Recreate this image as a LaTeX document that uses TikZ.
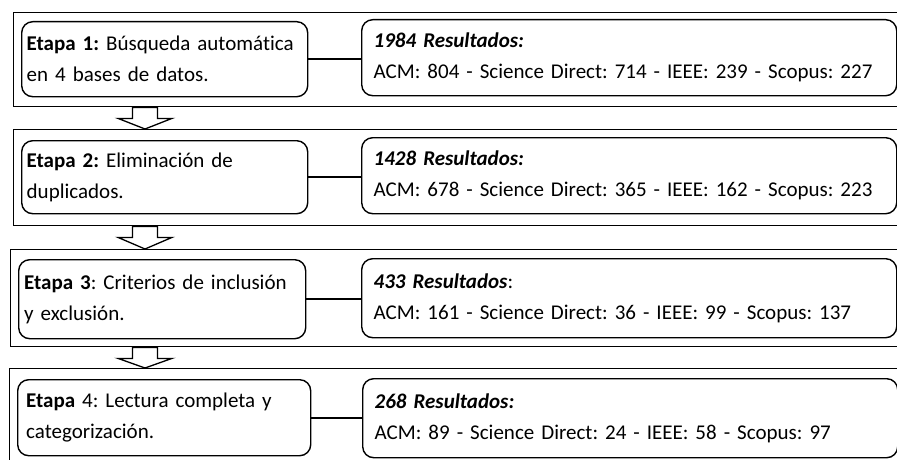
\documentclass[tikz,border=0pt]{standalone}
\usepackage{fontspec}
\setmainfont{Carlito}[Ligatures=NoCommon]
\usetikzlibrary{calc}
\frenchspacing
\hyphenpenalty=10000

\begin{document}
\begin{tikzpicture}[x=1pt,y=-1pt,
		frame/.style = {draw, line width=1.4pt, rectangle, anchor=north west, inner sep=0, minimum width=900pt},
		etapa/.style = {draw, line width=1.4pt, rounded corners=11pt, anchor=north west, minimum width=286pt, minimum height=75pt, text width=276pt, inner xsep=5pt, align=left, font=\fontsize{21}{31}\selectfont},
		result/.style = {draw, line width=1.4pt, rounded corners=11pt, anchor=north west, minimum width=535pt, minimum height=76pt, text width=511pt, inner xsep=12pt, align=left, font=\fontsize{21}{31}\selectfont},
		link/.style = {line width=2.4pt},
		flecha/.style = {line width=1.3pt}]
	\useasboundingbox (0,0) rectangle (897,460);
	% marcos de cada etapa
	\node [frame, minimum height=94pt] (f1) at (13,12) {};
	\node [frame, minimum height=96pt] (f2) at (13,129) {};
	\node [frame, minimum height=97pt] (f3) at (10,249) {};
	\node [frame, minimum height=110pt] (f4) at (9,368) {};
	% etapas
	\node [etapa] (e1) at (21,21) {\textbf{Etapa 1:} Búsqueda automática\\en 4 bases de datos.};
	\node [etapa, minimum height=73pt] (e2) at (21,140) {\textbf{Etapa 2:} Eliminación de\\duplicados.};
	\node [etapa, minimum width=287pt, minimum height=79pt] (e3) at (18,259) {\makebox[262pt][s]{\textbf{Etapa 3}: Criterios de inclusión}\\y exclusión.};
	\node [etapa, minimum width=293pt, minimum height=76pt] (e4) at (17,379) {\textbf{Etapa} 4: Lectura completa y\\categorización.};
	% resultados
	\node [result] (r1) at (361,19) {\textbf{\textit{1984 Resultados:}}\\ACM: 804 - Science Direct: 714 - IEEE: 239 - Scopus: 227};
	\node [result] (r2) at (361,137) {\textbf{\textit{1428 Resultados:}}\\ACM: 678 - Science Direct: 365 - IEEE: 162 - Scopus: 223};
	\node [result, minimum height=79pt] (r3) at (361,258) {\textbf{\textit{433 Resultados}}:\\ACM: 161 - Science Direct: 36 - IEEE: 99 - Scopus: 137};
	\node [result, minimum width=533pt, minimum height=79pt] (r4) at (362,378) {\textbf{\textit{268 Resultados:}}\\ACM: 89 - Science Direct: 24 - IEEE: 58 - Scopus: 97};
	\foreach \i in {1,...,4}
		\draw [link] (e\i.east) -- (e\i.east -| r\i.west);
	% flechas entre etapas
	\coordinate (ax) at (145,0);
	\foreach \a/\b in {f1/f2,f2/f3,f3/f4}
		\draw [flecha] ($(\a.south -| ax)+(-12.5,0)$) -- ++(0,11) -- ++(-14.5,0) -- (\b.north -| ax) -- ($(\a.south -| ax)+(27,11)$) -- ++(-14.5,0) -- ++(0,-11) -- cycle;
\end{tikzpicture}
\end{document}
